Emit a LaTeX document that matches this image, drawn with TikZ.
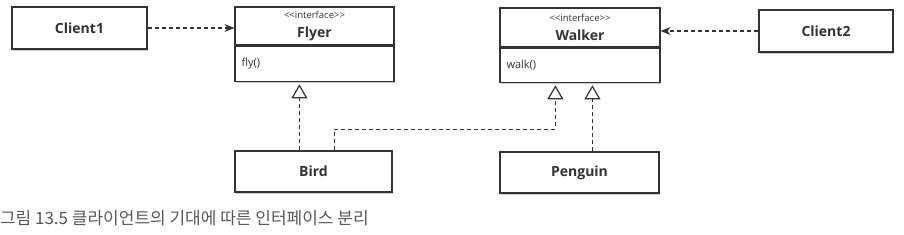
\documentclass[tikz,border=0pt]{standalone}
\usepackage{fontspec}
\setmainfont{Open Sans}
\newfontfamily\krfont{Noto Sans CJK KR}
\usetikzlibrary{arrows.meta,calc,shadows}
\definecolor{umlline}{HTML}{333333}
\newcommand\stereotype[1]{{\fontsize{9.5}{10}\selectfont\mdseries
  <\kern0pt<#1>\kern0pt>}}
\tikzset{
  umlfig/.style={x=1pt,y=1pt,>=Stealth,
    every node/.style={text=umlline,align=center}},
  classbox/.style={draw=umlline,line width=1.2pt,fill=white,
    drop shadow={shadow xshift=1.4pt,shadow yshift=-1.6pt,fill=black!40},
    inner sep=0pt,font=\fontsize{14}{16}\selectfont\bfseries},
  headbox/.style={classbox,minimum width=159pt,minimum height=38pt},
  opsbox/.style={classbox,font=\fontsize{11}{12}\selectfont,align=left,
    inner xsep=6.5pt,text width=146pt,minimum height=35pt},
  uses/.style={-{Stealth[length=10pt,width=8pt]},draw=umlline,
    line width=1.2pt,dash pattern=on 4pt off 3pt},
  realize/.style={-{Triangle[open,length=14pt,width=16pt]},draw=umlline,
    line width=1.2pt,dash pattern=on 4pt off 3pt,shorten >=2.5pt},
}

\begin{document}
\begin{tikzpicture}[umlfig]
    \useasboundingbox (0,0) rectangle (904,235);

    \node[classbox,minimum width=135pt,minimum height=42pt] (client1)
      at (79.5,207) {Client1};
    \node[headbox] (flyer) at (314.5,209)
      {\stereotype{interface}\\[3.5pt]Flyer};
    \node[opsbox,anchor=north] (flyerops) at (flyer.south) {fly()};

    \node[headbox,minimum width=160pt,minimum height=39pt] (walker)
      at (580,207.5) {\stereotype{interface}\\[3.5pt]Walker};
    \node[opsbox,anchor=north,text width=147pt,minimum height=34pt]
      (walkerops) at (walker.south) {walk()};
    \node[classbox,minimum width=134pt,minimum height=42pt] (client2)
      at (826,204) {Client2};

    \node[classbox,minimum width=157pt,minimum height=41pt] (bird)
      at (313.5,63.5) {Bird};
    \node[classbox,minimum width=159pt,minimum height=41pt] (penguin)
      at (579.5,62.5) {Penguin};

    \draw[uses] (client1.east) -- (flyer.west |- client1.east);
    \draw[uses] (client2.west) -- (walker.east |- client2.west);

    \draw[realize] ([xshift=65pt]bird.north west)
      -- ([xshift=65pt]flyerops.south west);
    \draw[realize] ([xshift=100pt]bird.north west) -- ++(0,21)
      -| ([xshift=56pt]walkerops.south west);
    \draw[realize] ([xshift=93pt]penguin.north west)
      -- ([xshift=93pt]walkerops.south west);

    \node[anchor=west,text=black!65,font=\krfont\fontsize{17}{19}\selectfont]
      (caption) at (-3.5,17) {그림 13.5 클라이언트의 기대에 따른 인터페이스 분리};
  \end{tikzpicture}
\end{document}
